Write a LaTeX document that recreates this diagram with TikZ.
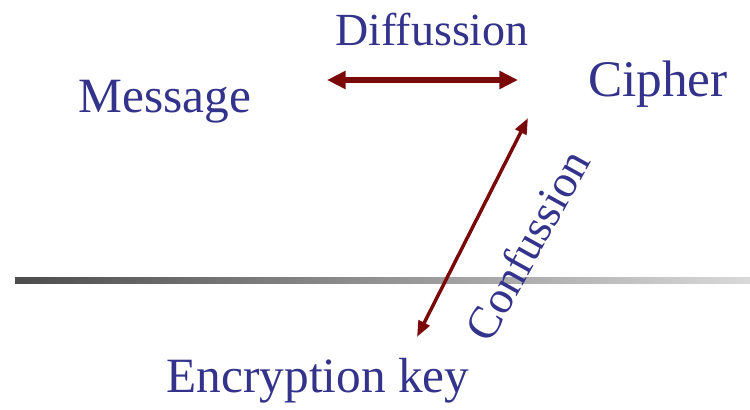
\documentclass[tikz,border=0pt]{standalone}
\usepackage{fontspec}
\setmainfont{Liberation Serif}
\usetikzlibrary{arrows.meta}
\definecolor{txtblue}{HTML}{33338C}
\definecolor{arrred}{HTML}{7A0A0A}
\begin{document}
\begin{tikzpicture}[x=0.75pt,y=-0.75pt,
  lbl/.style={text=txtblue,font=\fontsize{37}{40}\selectfont,inner sep=0pt,anchor=base},
  small/.style={font=\fontsize{34.5}{38}\selectfont},
  dbl/.style={draw=arrred,{Triangle[length=14pt,width=13pt]}-{Triangle[length=14pt,width=13pt]}}]
\useasboundingbox (0,0) rectangle (750,410);
\shade[left color=black!70,right color=black!15] (15,277) rectangle (750,283);
\node[lbl] (msg) at (165,113) {Message};
\node[lbl,font=\fontsize{38.5}{40}\selectfont] (cip) at (658,97) {Cipher};
\node[lbl,small] (dif) at (432,46) {Diffussion};
\node[lbl] (key) at (318,392) {Encryption key};
\node[lbl,small,anchor=center,rotate=61] (con) at (527,245) {Confussion};
\coordinate (h1) at (327,80);
\coordinate (h2) at (518,80);
\coordinate (d1) at (528,118);
\coordinate (d2) at (417,337);
\draw[dbl,line width=4.5pt] (h1) -- (h2);
\draw[dbl,line width=2.6pt,{Triangle[length=12pt,width=9pt]}-{Triangle[length=12pt,width=9pt]}] (d1) -- (d2);
\end{tikzpicture}
\end{document}
